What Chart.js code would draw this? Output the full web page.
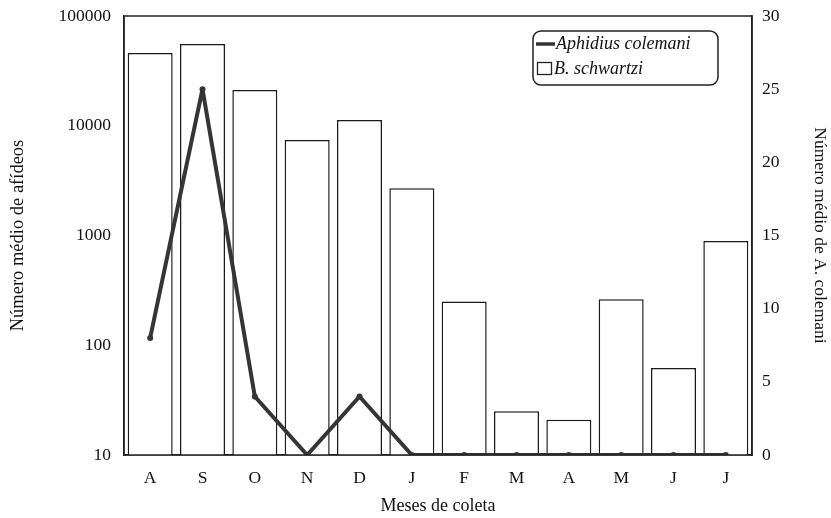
<!DOCTYPE html>
<html>
<head>
<meta charset="utf-8">
<script src="https://cdn.jsdelivr.net/npm/chart.js@4/dist/chart.umd.min.js"></script>
<style>
  html, body { margin: 0; padding: 0; background: #fff; }
  #wrap { width: 831px; height: 518px; }
</style>
</head>
<body>
<div id="wrap"><canvas id="chart" width="831" height="518"></canvas></div>
<script>
// Meses de coleta
const months = ['A', 'S', 'O', 'N', 'D', 'J', 'F', 'M', 'A', 'M', 'J', 'J'];
// Número médio de afídeos (B. schwartzi) - eixo log
const afideos = [46000, 55600, 21200, 7400, 11300, 2700, 250, 25, 21, 262, 62, 890];
// Número médio de A. colemani - eixo direito
const colemani = [8, 25, 4, 0, 4, 0, 0, 0, 0, 0, 0, 0];
const leftTicks = [10, 100, 1000, 10000, 100000];
const rightTicks = [0, 5, 10, 15, 20, 25, 30];

const serif = 'Liberation Serif, Times New Roman, serif';
Chart.defaults.font.family = serif;
Chart.defaults.color = '#111';

// caixa do gráfico + legenda com cantos arredondados
const framePlugin = {
    id: 'frame',
    afterDraw(chart) {
        const ctx = chart.ctx;
        const a = chart.chartArea;
        ctx.save();
        ctx.strokeStyle = '#222';
        ctx.lineWidth = 1.5;
        ctx.strokeRect(a.left, a.top, a.right - a.left, a.bottom - a.top);

        // legenda
        const x = 533, y = 31, w = 185, h = 54;
        ctx.beginPath();
        ctx.roundRect(x, y, w, h, 8);
        ctx.fillStyle = '#fff';
        ctx.fill();
        ctx.stroke();

        const lineSet = chart.data.datasets[0];
        const barSet = chart.data.datasets[1];
        ctx.strokeStyle = '#333';
        ctx.lineWidth = 3.5;
        ctx.beginPath();
        ctx.moveTo(536, 44);
        ctx.lineTo(555, 44);
        ctx.stroke();
        ctx.lineWidth = 1.3;
        ctx.strokeStyle = '#222';
        ctx.strokeRect(537.5, 62.5, 14, 12);

        ctx.fillStyle = '#111';
        ctx.font = 'italic 18px ' + serif;
        ctx.textBaseline = 'middle';
        ctx.fillText(lineSet.label, 556, 44);
        ctx.fillText(barSet.label, 554, 69);
        ctx.restore();
    }
};

function fixVertical(scale, width) {
    scale.width = width;
    scale.paddingTop = 0;
    scale.paddingBottom = 0;
}

new Chart(document.getElementById('chart').getContext('2d'), {
    data: {
        labels: months,
        datasets: [{
            type: 'line',
            label: 'Aphidius colemani',
            data: colemani,
            yAxisID: 'y1',
            borderColor: '#353535',
            backgroundColor: '#353535',
            borderWidth: 4,
            borderJoinStyle: 'round',
            pointStyle: 'circle',
            pointRadius: 3,
            pointBorderWidth: 0,
            tension: 0,
            order: 0
        }, {
            type: 'bar',
            label: 'B. schwartzi',
            data: afideos,
            yAxisID: 'y',
            backgroundColor: '#fff',
            borderColor: '#1a1a1a',
            borderWidth: 1.5,
            barPercentage: 0.86,
            categoryPercentage: 1,
            order: 1
        }]
    },
    options: {
        responsive: false,
        animation: false,
        layout: { padding: { top: 16, left: 0, right: 0, bottom: 0 } },
        plugins: {
            legend: { display: false },
            tooltip: { enabled: false }
        },
        scales: {
            x: {
                grid: { display: false, drawTicks: false },
                border: { display: true, color: '#222', width: 1.5 },
                ticks: { font: { size: 17.5 }, color: '#111', padding: 13, maxRotation: 0 },
                title: { display: true, text: 'Meses de coleta', font: { size: 18 }, color: '#111', padding: { top: 0, bottom: 1 } },
                afterFit(scale) { scale.height = 63; scale.paddingLeft = 0; scale.paddingRight = 0; }
            },
            y: {
                type: 'logarithmic',
                position: 'left',
                min: 10,
                max: 100000,
                grid: { display: false, drawTicks: false },
                border: { display: true, color: '#222', width: 1.5 },
                afterBuildTicks(scale) { scale.ticks = leftTicks.map(v => ({ value: v })); },
                ticks: { font: { size: 17.5 }, color: '#111', padding: 13, callback: v => String(v) },
                title: { display: true, text: 'Número médio de afídeos', font: { size: 18.5 }, color: '#111', padding: { top: 7.5, bottom: 0 } },
                afterFit(scale) { fixVertical(scale, 124); }
            },
            y1: {
                type: 'linear',
                position: 'right',
                min: 0,
                max: 30,
                grid: { display: false, drawTicks: false },
                border: { display: true, color: '#222', width: 1.5 },
                afterBuildTicks(scale) { scale.ticks = rightTicks.map(v => ({ value: v })); },
                ticks: { font: { size: 17.5 }, color: '#111', padding: 10 },
                title: { display: true, text: 'Número médio de A. colemani', font: { size: 17.5 }, color: '#111', padding: { top: 1, bottom: 0 } },
                afterFit(scale) { fixVertical(scale, 79); }
            }
        }
    },
    plugins: [framePlugin]
});
</script>
</body>
</html>
